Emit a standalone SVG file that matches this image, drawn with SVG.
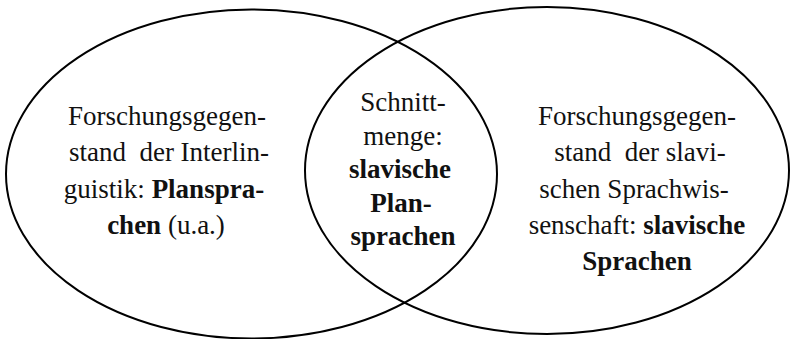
<svg xmlns="http://www.w3.org/2000/svg" width="790" height="339" viewBox="0 0 790 339">
  <style>
    .set { fill: none; stroke: #000; stroke-width: 2; }
    .lbl { font-family: "Liberation Serif", "Times New Roman", serif; font-size: 27px; fill: #111; text-anchor: middle; }
    .b { font-weight: bold; }
  </style>
  <rect width="790" height="339" fill="#fff"/>

  <!-- Set A: Interlinguistik -->
  <g id="set-interlinguistik">
    <ellipse class="set" cx="251.5" cy="174" rx="245.5" ry="164.5"/>
    <text class="lbl" x="167" y="125">Forschungsgegen-</text>
    <text class="lbl" x="169" y="161" xml:space="preserve">stand  der Interlin-</text>
    <text class="lbl" x="164" y="197.5">guistik: <tspan class="b">Planspra-</tspan></text>
    <text class="lbl" x="166" y="233.5"><tspan class="b">chen</tspan> (u.a.)</text>
  </g>

  <!-- Set B: slavische Sprachwissenschaft -->
  <g id="set-slavistik">
    <ellipse class="set" cx="547" cy="170.5" rx="242" ry="163.5"/>
    <text class="lbl" x="637" y="125">Forschungsgegen-</text>
    <text class="lbl" x="640" y="161" xml:space="preserve">stand  der slavi-</text>
    <text class="lbl" x="634" y="197.5">schen Sprachwis-</text>
    <text class="lbl" x="637" y="233.5">senschaft: <tspan class="b">slavische</tspan></text>
    <text class="lbl b" x="637" y="269.5">Sprachen</text>
  </g>

  <!-- Intersection -->
  <g id="intersection">
    <text class="lbl" x="403" y="111">Schnitt-</text>
    <text class="lbl" x="403" y="144.5">menge:</text>
    <text class="lbl b" x="400" y="178">slavische</text>
    <text class="lbl b" x="401" y="211.5">Plan-</text>
    <text class="lbl b" x="403" y="245">sprachen</text>
  </g>
</svg>
